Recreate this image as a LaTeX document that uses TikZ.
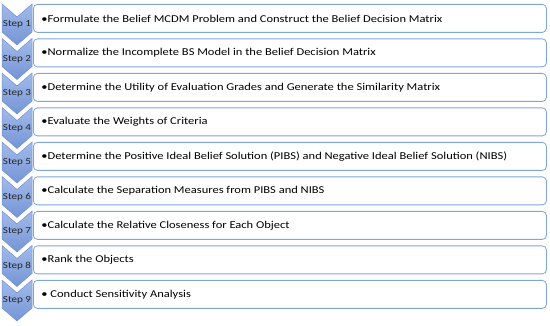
\documentclass[tikz,border=0pt]{standalone}
\usepackage{fontspec}
\setmainfont[FakeStretch=1.19]{Carlito}
\usetikzlibrary{calc}

\definecolor{boxblue}{HTML}{7FA6DA}
\definecolor{chevtop}{HTML}{A3BBEA}
\definecolor{chevbot}{HTML}{7494D6}
\definecolor{chevedge}{HTML}{7290CC}

\begin{document}
\begin{tikzpicture}[x=1pt,y=-1pt,
  stepbox/.style={draw=boxblue,line width=0.8pt,rounded corners=4pt,fill=white,
    anchor=north west,minimum height=28pt,inner xsep=8pt,
    font=\fontsize{10.5}{12}\selectfont},
  chevron/.style={draw=chevedge,line width=0.5pt,top color=chevtop,bottom color=chevbot},
  steplabel/.style={font=\fontsize{9.3}{11}\selectfont,text=black!85,inner sep=0pt}]
\useasboundingbox (0,0) rectangle (550,326);

\foreach \i/\txt in {
  1/{Formulate the Belief MCDM Problem and Construct the Belief Decision Matrix},
  2/{Normalize the Incomplete BS Model in the Belief Decision Matrix},
  3/{Determine the Utility of Evaluation Grades and Generate the Similarity Matrix},
  4/{Evaluate the Weights of Criteria},
  5/{Determine the Positive Ideal Belief Solution (PIBS) and Negative Ideal Belief Solution (NIBS)},
  6/{Calculate the Separation Measures from PIBS and NIBS},
  7/{Calculate the Relative Closeness for Each Object},
  8/{Rank the Objects},
  9/{\ Conduct Sensitivity Analysis}}
{
  \pgfmathsetmacro{\t}{4+34.5*(\i-1)}
  % chevron of the step
  \draw[chevron] (2,\t) -- (17,\t+13) -- (32,\t) -- (32,\t+28)
    -- (17,\t+41) -- (2,\t+28) -- cycle;
  \node[steplabel] (lbl\i) at (17,\t+20.5) {Step \i};
  % box with the text
  \node[stepbox] (box\i) at (33,\t) {\makebox[497pt][l]{\textbullet\txt}};
}
\end{tikzpicture}
\end{document}
